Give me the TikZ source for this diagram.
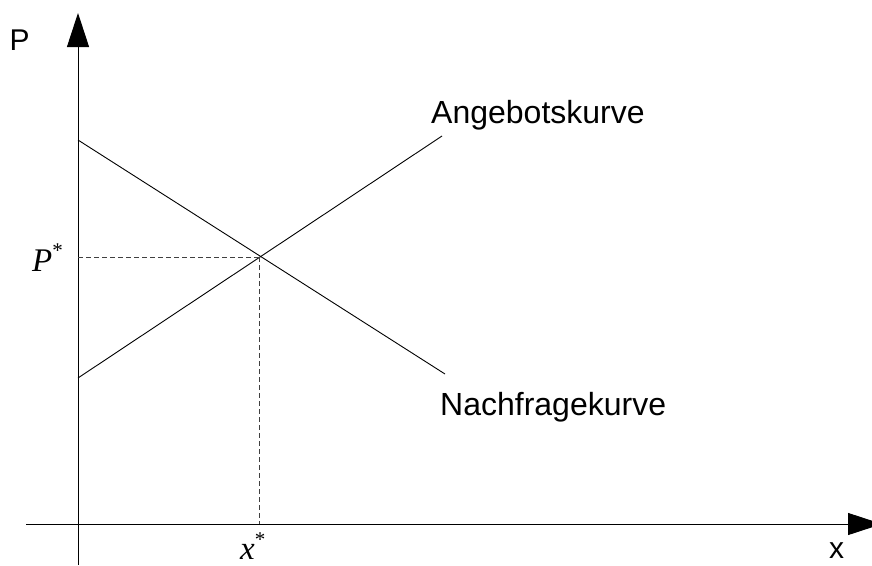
\documentclass[tikz,border=0pt]{standalone}
\usepackage{fontspec}
\setmainfont{Liberation Sans}
\newfontfamily\lserif{Liberation Serif}
\usetikzlibrary{arrows.meta}
\tikzset{
  axis/.style={line width=1pt, -{Triangle[length=34pt,width=22pt]}},
  curve/.style={line width=0.9pt},
  guide/.style={line width=0.8pt, dashed, dash pattern=on 5pt off 3pt, draw=black!75},
  lab/.style={inner sep=0pt, font=\fontsize{32}{36}\selectfont},
  axlab/.style={inner sep=0pt, font=\fontsize{30}{34}\selectfont},
  eqlab/.style={inner sep=0pt, font=\lserif\fontsize{33}{36}\selectfont\itshape}
}
\begin{document}
\begin{tikzpicture}[x=1pt,y=-1pt]
\useasboundingbox (0,0) rectangle (872,565);
% axis coordinates
\coordinate (ybot) at (78,565);
\coordinate (ytop) at (78,13);
\coordinate (xleft) at (26,524);
\coordinate (xright) at (882,524);
% curve ends
\coordinate (d0) at (78,140);
\coordinate (d1) at (445,374);
\coordinate (s0) at (78,378);
\coordinate (s1) at (442,136);
\coordinate (eq) at (259,257);
\coordinate (eqy) at (78,257);
\coordinate (eqx) at (259,524);
% axes
\draw[axis] (ybot) -- (ytop);
\draw[axis] (xleft) -- (xright);
% curves
\draw[curve] (d0) -- (d1);
\draw[curve] (s0) -- (s1);
% guides
\draw[guide] (eqy) -- (eq);
\draw[guide] (eq) -- (eqx);
% labels
\node[axlab, anchor=base west] (lp) at (9.5,50) {P};
\node[axlab, anchor=base west] (lx) at (829,558) {x};
\node[lab, anchor=base west] (la) at (431,123) {Angebotskurve};
\node[lab, anchor=base west] (ln) at (440,415) {Nachfragekurve};
\node[eqlab, anchor=base west] (lps) at (32,271) {P\raisebox{0.42em}{\upshape\fontsize{21}{21}\selectfont *}};
\node[eqlab, anchor=base west] (lxs) at (240,559) {x\raisebox{0.38em}{\upshape\fontsize{21}{21}\selectfont *}};
\end{tikzpicture}
\end{document}
